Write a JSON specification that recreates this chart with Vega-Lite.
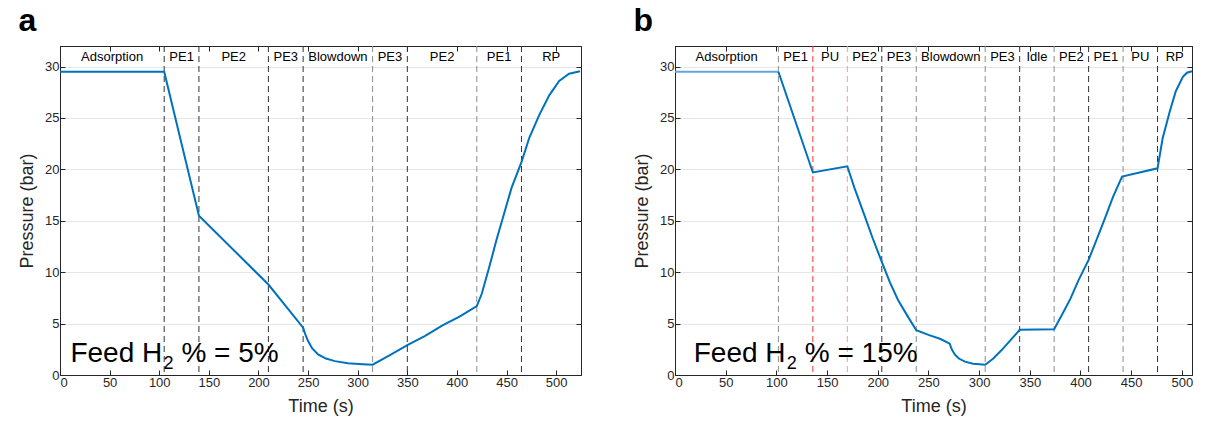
{
  "$schema": "https://vega.github.io/schema/vega-lite/v6.json",
  "background": "white",
  "padding": {"left": 18, "top": 4, "right": 5, "bottom": 5},
  "spacing": 48,
  "config": {
    "font": "Liberation Sans",
    "view": {"stroke": "#262626", "strokeWidth": 1},
    "axis": {
      "labelFont": "Liberation Sans", "titleFont": "Liberation Sans",
      "labelFontSize": 13, "titleFontSize": 18, "titleFontWeight": "normal",
      "labelColor": "#262626", "titleColor": "#262626",
      "domainColor": "#262626", "tickColor": "#262626",
      "tickSize": -5, "labelPadding": 6, "titlePadding": 8,
      "gridColor": "#e6e6e6", "gridWidth": 1
    },
    "title": {"font": "Liberation Sans", "fontSize": 32, "fontWeight": "bold", "color": "black", "anchor": "start", "frame": "bounds", "offset": 8}
  },
  "datasets": {
    "a_curve": [
      {"t": 0, "p": 29.5}, {"t": 105, "p": 29.5}, {"t": 140, "p": 15.5}, {"t": 210, "p": 8.8},
      {"t": 245, "p": 4.6}, {"t": 247, "p": 4.0}, {"t": 250, "p": 3.3}, {"t": 254, "p": 2.6},
      {"t": 260, "p": 2.0}, {"t": 268, "p": 1.6}, {"t": 277, "p": 1.35}, {"t": 290, "p": 1.15},
      {"t": 305, "p": 1.05}, {"t": 315, "p": 1.0}, {"t": 332, "p": 1.9}, {"t": 350, "p": 2.9},
      {"t": 368, "p": 3.8}, {"t": 385, "p": 4.8}, {"t": 403, "p": 5.7}, {"t": 420, "p": 6.7},
      {"t": 425, "p": 7.9}, {"t": 432, "p": 10.3}, {"t": 440, "p": 13.2}, {"t": 446, "p": 15.2},
      {"t": 455, "p": 18.2}, {"t": 465, "p": 20.7}, {"t": 473, "p": 23.1}, {"t": 483, "p": 25.3},
      {"t": 493, "p": 27.2}, {"t": 503, "p": 28.6}, {"t": 513, "p": 29.3}, {"t": 524, "p": 29.55}
    ],
    "a_bounds": [
      {"t": 105, "kind": "step"}, {"t": 140, "kind": "step"}, {"t": 210, "kind": "step"},
      {"t": 245, "kind": "step"}, {"t": 315, "kind": "overlap"}, {"t": 350, "kind": "step"},
      {"t": 420, "kind": "overlap"}, {"t": 465, "kind": "step"}
    ],
    "a_phases": [
      {"t": 52.5, "label": "Adsorption"}, {"t": 122.5, "label": "PE1"}, {"t": 175, "label": "PE2"},
      {"t": 227.5, "label": "PE3"}, {"t": 280, "label": "Blowdown"}, {"t": 332.5, "label": "PE3"},
      {"t": 385, "label": "PE2"}, {"t": 442.5, "label": "PE1"}, {"t": 495, "label": "RP"}
    ],
    "a_note": [{"t": 10.5, "p": 1.3, "main": "Feed H", "sub": "2", "rest": "% = 5%"}],
    "b_curve": [
      {"t": 0, "p": 29.5, "seg": "feed"}, {"t": 102, "p": 29.5, "seg": "feed"},
      {"t": 102, "p": 29.5, "seg": "cycle"}, {"t": 136, "p": 19.7, "seg": "cycle"}, {"t": 170, "p": 20.3, "seg": "cycle"},
      {"t": 177, "p": 18.2, "seg": "cycle"}, {"t": 187, "p": 15.5, "seg": "cycle"}, {"t": 195, "p": 13.3, "seg": "cycle"},
      {"t": 204, "p": 11.0, "seg": "cycle"}, {"t": 212, "p": 9.0, "seg": "cycle"}, {"t": 220, "p": 7.3, "seg": "cycle"},
      {"t": 229, "p": 5.8, "seg": "cycle"}, {"t": 238, "p": 4.35, "seg": "cycle"}, {"t": 250, "p": 3.9, "seg": "cycle"},
      {"t": 262, "p": 3.5, "seg": "cycle"}, {"t": 271, "p": 3.05, "seg": "cycle"}, {"t": 273, "p": 2.5, "seg": "cycle"},
      {"t": 276, "p": 2.0, "seg": "cycle"}, {"t": 280, "p": 1.6, "seg": "cycle"}, {"t": 286, "p": 1.3, "seg": "cycle"},
      {"t": 294, "p": 1.1, "seg": "cycle"}, {"t": 306, "p": 1.0, "seg": "cycle"}, {"t": 314, "p": 1.6, "seg": "cycle"},
      {"t": 322, "p": 2.4, "seg": "cycle"}, {"t": 331, "p": 3.4, "seg": "cycle"}, {"t": 340, "p": 4.4, "seg": "cycle"},
      {"t": 374, "p": 4.45, "seg": "cycle"}, {"t": 382, "p": 5.9, "seg": "cycle"}, {"t": 390, "p": 7.4, "seg": "cycle"},
      {"t": 398, "p": 9.2, "seg": "cycle"}, {"t": 408, "p": 11.2, "seg": "cycle"}, {"t": 416, "p": 13.2, "seg": "cycle"},
      {"t": 424, "p": 15.2, "seg": "cycle"}, {"t": 432, "p": 17.3, "seg": "cycle"}, {"t": 441, "p": 19.3, "seg": "cycle"},
      {"t": 476, "p": 20.1, "seg": "cycle"}, {"t": 481, "p": 23.0, "seg": "cycle"}, {"t": 488, "p": 25.6, "seg": "cycle"},
      {"t": 494, "p": 27.6, "seg": "cycle"}, {"t": 501, "p": 29.0, "seg": "cycle"}, {"t": 505, "p": 29.4, "seg": "cycle"},
      {"t": 510, "p": 29.55, "seg": "cycle"}
    ],
    "b_bounds": [
      {"t": 102, "kind": "overlap"}, {"t": 136, "kind": "purge start"}, {"t": 170, "kind": "purge end"},
      {"t": 204, "kind": "step"}, {"t": 238, "kind": "overlap"}, {"t": 306, "kind": "overlap"},
      {"t": 340, "kind": "step"}, {"t": 374, "kind": "overlap"}, {"t": 408, "kind": "step"},
      {"t": 442, "kind": "overlap"}, {"t": 476, "kind": "step"}
    ],
    "b_phases": [
      {"t": 51, "label": "Adsorption"}, {"t": 119, "label": "PE1"}, {"t": 153, "label": "PU"},
      {"t": 187, "label": "PE2"}, {"t": 221, "label": "PE3"}, {"t": 272, "label": "Blowdown"},
      {"t": 323, "label": "PE3"}, {"t": 357, "label": "Idle"}, {"t": 391, "label": "PE2"},
      {"t": 425, "label": "PE1"}, {"t": 459, "label": "PU"}, {"t": 493, "label": "RP"}
    ],
    "b_note": [{"t": 18.5, "p": 1.3, "main": "Feed H", "sub": "2", "rest": "% = 15%"}]
  },
  "hconcat": [
    {
      "title": {"text": "a"},
      "width": 521, "height": 329,
      "resolve": {"axis": {"x": "independent", "y": "independent"}},
      "layer": [
        {
          "data": {"name": "a_bounds"},
          "mark": {"type": "rule", "strokeDash": [6, 4], "strokeWidth": 1},
          "encoding": {
            "x": {"field": "t", "type": "quantitative", "scale": {"domain": [0, 525], "nice": false, "zero": false}, "axis": null},
            "color": {"field": "kind", "type": "nominal", "legend": null,
              "scale": {"domain": ["step", "overlap", "purge start", "purge end"], "range": ["#333333", "#8c8c8c", "#ff3030", "#ff9a9a"]}}
          }
        },
        {
          "data": {"name": "a_curve"},
          "mark": {"type": "line", "color": "#0072BD", "strokeWidth": 2},
          "encoding": {
            "x": {"field": "t", "type": "quantitative", "scale": {"domain": [0, 525], "nice": false, "zero": false},
              "axis": {"title": "Time (s)", "values": [0, 50, 100, 150, 200, 250, 300, 350, 400, 450, 500], "grid": false}},
            "y": {"field": "p", "type": "quantitative", "scale": {"domain": [0, 32], "nice": false},
              "axis": {"title": "Pressure (bar)", "values": [0, 5, 10, 15, 20, 25, 30], "grid": true}}
          }
        },
        {
          "data": {"name": "a_phases"},
          "mark": {"type": "text", "fontSize": 13, "color": "black", "baseline": "middle", "align": "center"},
          "encoding": {
            "x": {"field": "t", "type": "quantitative", "scale": {"domain": [0, 525], "nice": false, "zero": false},
              "axis": {"orient": "top", "labels": false, "title": null, "grid": false, "values": [0, 50, 100, 150, 200, 250, 300, 350, 400, 450, 500]}},
            "y": {"datum": 30.9, "type": "quantitative", "scale": {"domain": [0, 32], "nice": false},
              "axis": {"orient": "right", "labels": false, "title": null, "grid": false, "values": [0, 5, 10, 15, 20, 25, 30]}},
            "text": {"field": "label"}
          }
        },
        {
          "data": {"name": "a_note"},
          "mark": {"type": "text", "fontSize": 28, "color": "black", "align": "left", "baseline": "alphabetic"},
          "encoding": {
            "x": {"field": "t", "type": "quantitative", "axis": null},
            "y": {"field": "p", "type": "quantitative", "axis": null},
            "text": {"field": "main"}
          }
        },
        {
          "data": {"name": "a_note"},
          "mark": {"type": "text", "fontSize": 18, "color": "black", "align": "left", "baseline": "alphabetic", "dx": 93, "dy": 7},
          "encoding": {
            "x": {"field": "t", "type": "quantitative", "axis": null},
            "y": {"field": "p", "type": "quantitative", "axis": null},
            "text": {"field": "sub"}
          }
        },
        {
          "data": {"name": "a_note"},
          "mark": {"type": "text", "fontSize": 28, "color": "black", "align": "left", "baseline": "alphabetic", "dx": 111},
          "encoding": {
            "x": {"field": "t", "type": "quantitative", "axis": null},
            "y": {"field": "p", "type": "quantitative", "axis": null},
            "text": {"field": "rest"}
          }
        }
      ]
    },
    {
      "title": {"text": "b"},
      "width": 517, "height": 329,
      "resolve": {"axis": {"x": "independent", "y": "independent"}, "scale": {"color": "independent"}},
      "layer": [
        {
          "data": {"name": "b_bounds"},
          "mark": {"type": "rule", "strokeDash": [6, 4], "strokeWidth": 1},
          "encoding": {
            "x": {"field": "t", "type": "quantitative", "scale": {"domain": [0, 510], "nice": false, "zero": false}, "axis": null},
            "color": {"field": "kind", "type": "nominal", "legend": null,
              "scale": {"domain": ["step", "overlap", "purge start", "purge end"], "range": ["#333333", "#8c8c8c", "#ff3030", "#ff9a9a"]}}
          }
        },
        {
          "data": {"name": "b_curve"},
          "mark": {"type": "line", "strokeWidth": 2},
          "encoding": {
            "x": {"field": "t", "type": "quantitative", "scale": {"domain": [0, 510], "nice": false, "zero": false},
              "axis": {"title": "Time (s)", "values": [0, 50, 100, 150, 200, 250, 300, 350, 400, 450, 500], "grid": false}},
            "y": {"field": "p", "type": "quantitative", "scale": {"domain": [0, 32], "nice": false},
              "axis": {"title": "Pressure (bar)", "values": [0, 5, 10, 15, 20, 25, 30], "grid": true}},
            "color": {"field": "seg", "type": "nominal", "legend": null,
              "scale": {"domain": ["feed", "cycle"], "range": ["#5ea6dc", "#0072BD"]}}
          }
        },
        {
          "data": {"name": "b_phases"},
          "mark": {"type": "text", "fontSize": 13, "color": "black", "baseline": "middle", "align": "center"},
          "encoding": {
            "x": {"field": "t", "type": "quantitative", "scale": {"domain": [0, 510], "nice": false, "zero": false},
              "axis": {"orient": "top", "labels": false, "title": null, "grid": false, "values": [0, 50, 100, 150, 200, 250, 300, 350, 400, 450, 500]}},
            "y": {"datum": 30.9, "type": "quantitative", "scale": {"domain": [0, 32], "nice": false},
              "axis": {"orient": "right", "labels": false, "title": null, "grid": false, "values": [0, 5, 10, 15, 20, 25, 30]}},
            "text": {"field": "label"}
          }
        },
        {
          "data": {"name": "b_note"},
          "mark": {"type": "text", "fontSize": 28, "color": "black", "align": "left", "baseline": "alphabetic"},
          "encoding": {
            "x": {"field": "t", "type": "quantitative", "axis": null},
            "y": {"field": "p", "type": "quantitative", "axis": null},
            "text": {"field": "main"}
          }
        },
        {
          "data": {"name": "b_note"},
          "mark": {"type": "text", "fontSize": 18, "color": "black", "align": "left", "baseline": "alphabetic", "dx": 93, "dy": 7},
          "encoding": {
            "x": {"field": "t", "type": "quantitative", "axis": null},
            "y": {"field": "p", "type": "quantitative", "axis": null},
            "text": {"field": "sub"}
          }
        },
        {
          "data": {"name": "b_note"},
          "mark": {"type": "text", "fontSize": 28, "color": "black", "align": "left", "baseline": "alphabetic", "dx": 111},
          "encoding": {
            "x": {"field": "t", "type": "quantitative", "axis": null},
            "y": {"field": "p", "type": "quantitative", "axis": null},
            "text": {"field": "rest"}
          }
        }
      ]
    }
  ]
}
